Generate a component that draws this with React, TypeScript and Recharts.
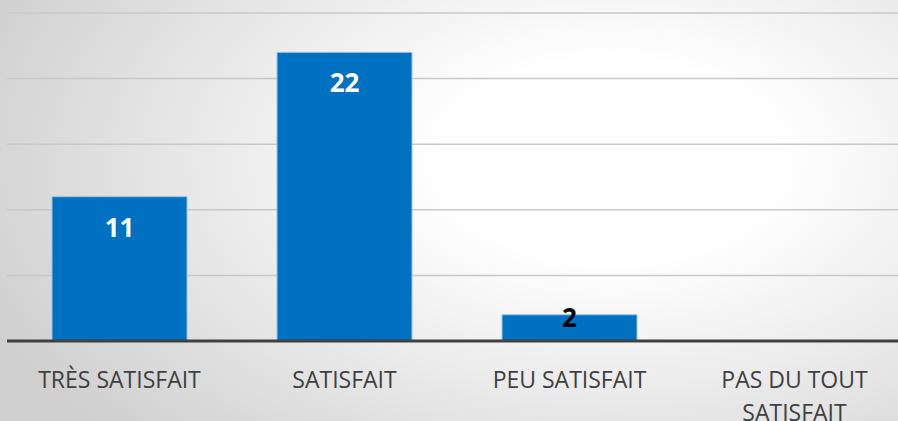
import React from "react";
import { BarChart, Bar, XAxis, YAxis, CartesianGrid, LabelList } from "recharts";

const categories = ["TRÈS SATISFAIT", "SATISFAIT", "PEU SATISFAIT", "PAS DU TOUT SATISFAIT"];
const counts = [11, 22, 2, 0];
const yTicks = [0, 5, 10, 15, 20, 25];
const tickLines: Record<string, string[]> = {
  "PAS DU TOUT SATISFAIT": ["PAS DU TOUT", "SATISFAIT"],
};

const data = categories.map((c, i) => ({ name: c, value: counts[i] }));

const CatTick = (props: any) => {
  const { x, y, payload } = props;
  const lines = tickLines[payload.value] || [payload.value];
  return (
    <g>
      {lines.map((l, i) => (
        <text
          key={i}
          x={x}
          y={y + 39 + i * 33}
          textAnchor="middle"
          fill="#404040"
          fontSize={23}
          fontFamily="'Open Sans', sans-serif"
        >
          {l}
        </text>
      ))}
    </g>
  );
};

const ValueLabel = (props: any) => {
  const { x, y, width, height, value } = props;
  if (!value) return null;
  const big = height > 50;
  return (
    <text
      x={x + width / 2}
      y={big ? y + 40 : y + 12}
      textAnchor="middle"
      fill={big ? "#ffffff" : "#000000"}
      fontSize={26}
      fontWeight="bold"
      fontFamily="'Open Sans', sans-serif"
    >
      {value}
    </text>
  );
};

export default function App() {
  return (
    <div
      style={{
        position: "absolute",
        left: 0,
        top: 0,
        width: 898,
        height: 421,
        overflow: "hidden",
        background:
          "radial-gradient(ellipse 75% 95% at 68% 38%, #ffffff 0%, #ffffff 25%, #f0f0f0 50%, #d0d0d0 100%)",
      }}
    >
      <BarChart
        width={910}
        height={421}
        data={data}
        margin={{ top: 13, right: 3, left: 7, bottom: 0 }}
        barCategoryGap="20%"
      >
        <CartesianGrid vertical={false} stroke="#c8c8c8" strokeWidth={1.5} />
        <YAxis hide domain={[0, 25]} ticks={yTicks} />
        <XAxis
          dataKey="name"
          height={80}
          axisLine={{ stroke: "#404040", strokeWidth: 3 }}
          tickLine={false}
          tick={<CatTick />}
          interval={0}
        />
        <Bar dataKey="value" fill="#0070C0" stroke="#9cc3e5" strokeWidth={1} isAnimationActive={false}>
          <LabelList dataKey="value" content={<ValueLabel />} />
        </Bar>
      </BarChart>
    </div>
  );
}
